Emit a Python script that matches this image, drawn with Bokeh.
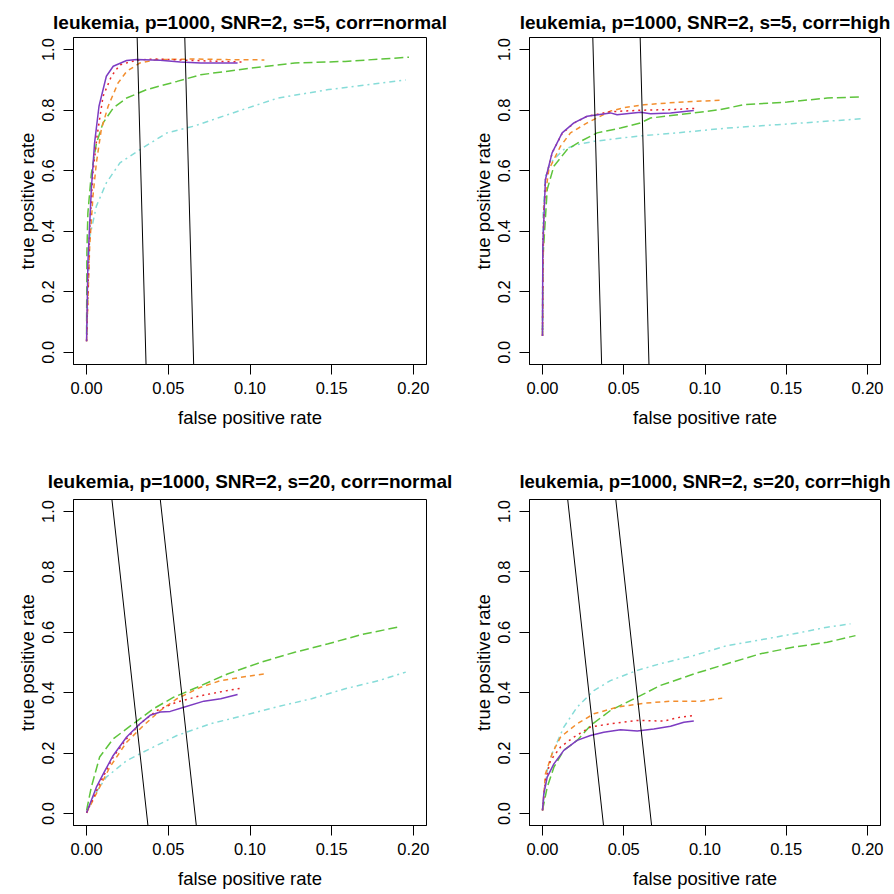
from bokeh.plotting import figure
from bokeh.layouts import gridplot
from bokeh.models import Range1d, FixedTicker, NumeralTickFormatter
from bokeh.embed import file_html
from bokeh.resources import INLINE

# ---------------- data ----------------
P_VARS = 1000
SEL_SIZES = [36, 65]          # reference lines: number of selected variables
X_TICKS = [0.0, 0.05, 0.10, 0.15, 0.20]
Y_TICKS = [0.0, 0.2, 0.4, 0.6, 0.8, 1.0]
XLIM = (0.0, 0.2)
YLIM = (0.0, 1.0)

TITLES = ["leukemia, p=1000, SNR=2, s=5, corr=normal",
          "leukemia, p=1000, SNR=2, s=5, corr=high",
          "leukemia, p=1000, SNR=2, s=20, corr=normal",
          "leukemia, p=1000, SNR=2, s=20, corr=high"]
S_VALUES = [5, 5, 20, 20]

# panel 1: s=5, corr=normal
p1_purple_x = [0, 0.0008, 0.0029, 0.0049, 0.0076, 0.0121, 0.0163, 0.0245, 0.0307, 0.045, 0.0574, 0.0698, 0.0924]
p1_purple_y = [0.037, 0.296, 0.538, 0.692, 0.813, 0.912, 0.945, 0.964, 0.967, 0.965, 0.959, 0.956, 0.956]
p1_red_x = [0, 0.0019, 0.0039, 0.0064, 0.0101, 0.0152, 0.0204, 0.0307, 0.041, 0.0615, 0.0759, 0.0965]
p1_red_y = [0.037, 0.406, 0.593, 0.714, 0.846, 0.912, 0.950, 0.965, 0.969, 0.965, 0.962, 0.959]
p1_orange_x = [0, 0.0019, 0.0039, 0.006, 0.009, 0.0132, 0.0193, 0.0245, 0.0327, 0.043, 0.0656, 0.0862, 0.1088]
p1_orange_y = [0.037, 0.35, 0.516, 0.626, 0.736, 0.813, 0.89, 0.928, 0.956, 0.967, 0.969, 0.967, 0.966]
p1_green_x = [0, 0.0002, 0.0008, 0.0029, 0.006, 0.0101, 0.0163, 0.0245, 0.0368, 0.0553, 0.0698, 0.0965, 0.1274, 0.1582, 0.1973]
p1_green_y = [0.06, 0.33, 0.46, 0.59, 0.69, 0.758, 0.807, 0.84, 0.868, 0.895, 0.917, 0.936, 0.956, 0.961, 0.975]
p1_cyan_x = [0, 0.0019, 0.006, 0.0121, 0.0204, 0.0327, 0.0492, 0.0656, 0.0862, 0.117, 0.148, 0.1953]
p1_cyan_y = [0.037, 0.38, 0.483, 0.56, 0.626, 0.67, 0.725, 0.747, 0.785, 0.84, 0.868, 0.90]

# panel 2: s=5, corr=high
p2_purple_x = [0, 0.0002, 0.0018, 0.0059, 0.0121, 0.0193, 0.0275, 0.0418, 0.0459, 0.0603, 0.0665, 0.0788, 0.0931]
p2_purple_y = [0.054, 0.351, 0.571, 0.659, 0.725, 0.758, 0.78, 0.791, 0.785, 0.793, 0.788, 0.791, 0.799]
p2_red_x = [0, 0.0002, 0.0018, 0.006, 0.012, 0.0193, 0.0275, 0.0418, 0.0615, 0.08, 0.0939]
p2_red_y = [0.054, 0.36, 0.57, 0.66, 0.722, 0.757, 0.78, 0.795, 0.80, 0.802, 0.806]
p2_orange_x = [0, 0.0008, 0.0039, 0.0111, 0.0172, 0.0275, 0.0418, 0.05, 0.0624, 0.0829, 0.1095]
p2_orange_y = [0.054, 0.483, 0.604, 0.681, 0.725, 0.758, 0.797, 0.808, 0.818, 0.826, 0.833]
p2_green_x = [0, 0.0002, 0.0029, 0.007, 0.0152, 0.0234, 0.0336, 0.048, 0.0603, 0.0665, 0.0931, 0.1095, 0.1239, 0.1506, 0.1752, 0.1957]
p2_green_y = [0.06, 0.307, 0.538, 0.615, 0.67, 0.697, 0.725, 0.741, 0.758, 0.774, 0.791, 0.802, 0.818, 0.827, 0.84, 0.844]
p2_cyan_x = [0, 0.0004, 0.0018, 0.0049, 0.0131, 0.0213, 0.0316, 0.0583, 0.0829, 0.1136, 0.1444, 0.1977]
p2_cyan_y = [0.054, 0.461, 0.582, 0.626, 0.67, 0.686, 0.697, 0.714, 0.725, 0.741, 0.752, 0.772]

# panel 3: s=20, corr=normal
p3_purple_x = [0, 0.006, 0.0111, 0.0163, 0.0245, 0.0327, 0.0389, 0.0451, 0.0512, 0.0595, 0.0718, 0.0821, 0.0924]
p3_purple_y = [0.002, 0.087, 0.14, 0.192, 0.253, 0.297, 0.325, 0.336, 0.338, 0.352, 0.372, 0.38, 0.394]
p3_red_x = [0, 0.008, 0.0163, 0.0245, 0.0327, 0.043, 0.0553, 0.0698, 0.0842, 0.0955]
p3_red_y = [0.002, 0.098, 0.187, 0.247, 0.297, 0.341, 0.369, 0.39, 0.405, 0.416]
p3_orange_x = [0, 0.008, 0.0142, 0.0245, 0.0348, 0.0451, 0.0553, 0.0698, 0.0821, 0.0944, 0.1088]
p3_orange_y = [0.002, 0.087, 0.153, 0.236, 0.291, 0.341, 0.38, 0.418, 0.44, 0.451, 0.462]
p3_green_x = [0, 0.0029, 0.008, 0.0163, 0.0286, 0.041, 0.0533, 0.0677, 0.0862, 0.1068, 0.1274, 0.1479, 0.1685, 0.1922]
p3_green_y = [0.01, 0.087, 0.187, 0.247, 0.297, 0.347, 0.385, 0.418, 0.462, 0.501, 0.534, 0.562, 0.593, 0.619]
p3_cyan_x = [0, 0.0039, 0.0121, 0.0245, 0.0368, 0.0553, 0.0759, 0.0965, 0.1171, 0.1377, 0.1582, 0.1788, 0.1953]
p3_cyan_y = [0.002, 0.054, 0.12, 0.175, 0.209, 0.258, 0.297, 0.325, 0.354, 0.38, 0.413, 0.44, 0.468]

# panel 4: s=20, corr=high
p4_purple_x = [0, 0.0008, 0.0029, 0.007, 0.0131, 0.0213, 0.0295, 0.0377, 0.048, 0.0583, 0.0685, 0.0788, 0.087, 0.0931]
p4_purple_y = [0.01, 0.065, 0.12, 0.164, 0.209, 0.242, 0.258, 0.269, 0.277, 0.273, 0.28, 0.289, 0.302, 0.306]
p4_red_x = [0, 0.0018, 0.0049, 0.0111, 0.0193, 0.0295, 0.0418, 0.0583, 0.0747, 0.0829, 0.0942]
p4_red_y = [0.01, 0.109, 0.175, 0.22, 0.253, 0.286, 0.297, 0.308, 0.306, 0.317, 0.325]
p4_orange_x = [0, 0.0018, 0.0059, 0.0111, 0.0213, 0.0316, 0.0459, 0.0624, 0.0788, 0.0972, 0.1106]
p4_orange_y = [0.01, 0.131, 0.198, 0.253, 0.297, 0.33, 0.352, 0.365, 0.372, 0.372, 0.382]
p4_green_x = [0, 0.0029, 0.007, 0.0131, 0.0213, 0.0295, 0.0418, 0.0583, 0.0726, 0.0931, 0.1136, 0.1342, 0.1547, 0.1752, 0.1926]
p4_green_y = [0.01, 0.087, 0.153, 0.209, 0.242, 0.291, 0.341, 0.385, 0.424, 0.462, 0.496, 0.529, 0.551, 0.567, 0.589]
p4_cyan_x = [0, 0.0029, 0.0059, 0.0131, 0.0213, 0.0316, 0.0418, 0.0583, 0.0726, 0.0931, 0.1136, 0.1342, 0.1547, 0.1752, 0.1895]
p4_cyan_y = [0.01, 0.142, 0.198, 0.286, 0.352, 0.407, 0.44, 0.474, 0.496, 0.523, 0.556, 0.575, 0.595, 0.617, 0.628]

PANEL_DATA = [
    [(p1_cyan_x, p1_cyan_y), (p1_green_x, p1_green_y), (p1_orange_x, p1_orange_y), (p1_red_x, p1_red_y), (p1_purple_x, p1_purple_y)],
    [(p2_cyan_x, p2_cyan_y), (p2_green_x, p2_green_y), (p2_orange_x, p2_orange_y), (p2_red_x, p2_red_y), (p2_purple_x, p2_purple_y)],
    [(p3_cyan_x, p3_cyan_y), (p3_green_x, p3_green_y), (p3_orange_x, p3_orange_y), (p3_red_x, p3_red_y), (p3_purple_x, p3_purple_y)],
    [(p4_cyan_x, p4_cyan_y), (p4_green_x, p4_green_y), (p4_orange_x, p4_orange_y), (p4_red_x, p4_red_y), (p4_purple_x, p4_purple_y)],
]

# ---------------- styles ----------------
STYLES = [  # cyan, green, orange, red, purple
    dict(color="#86DCD8", dash="2 4 6 4", width=1.5),
    dict(color="#5EC43C", dash="9 4", width=1.5),
    dict(color="#F38E2E", dash="5 4", width=1.5),
    dict(color="#E8282A", dash="2 4", width=1.5),
    dict(color="#7D3CC2", dash="solid", width=1.5),
]
FONT = "Liberation Sans"
PAD = 0.04

# layout (pixels): per panel
# (left, right, top, bottom, frame_w, frame_h, title_standoff, title_size)
LAYOUT = [
    (73, 29, 37, 83, 353, 327, 10, "19px"),
    (74, 14, 37, 83, 351, 327, 10, "19px"),
    (73, 29, 52, 69, 353, 326, 15, "19px"),
    (74, 14, 52, 69, 351, 326, 15, "18.5px"),
]


def make_panel(i):
    left, right, top, bottom, fw, fh, tstand, tsize = LAYOUT[i]
    xr = XLIM[1] - XLIM[0]
    yr = YLIM[1] - YLIM[0]
    x0, x1 = XLIM[0] - PAD * xr, XLIM[1] + PAD * xr
    y0, y1 = YLIM[0] - PAD * yr, YLIM[1] + PAD * yr
    p = figure(frame_width=fw, frame_height=fh,
               x_range=Range1d(x0, x1), y_range=Range1d(y0, y1),
               output_backend="svg", toolbar_location=None,
               min_border_left=left, min_border_right=right,
               min_border_top=top, min_border_bottom=bottom,
               background_fill_color="white", border_fill_color="white")
    p.title.text = TITLES[i]
    p.title.align = "center"
    p.title.text_font = FONT
    p.title.text_font_size = tsize
    p.title.text_font_style = "bold"
    p.title.text_color = "black"
    p.title.standoff = tstand

    p.grid.visible = False
    p.outline_line_color = "black"
    p.outline_line_width = 1
    p.outline_line_alpha = 1

    for ax, ticks, fmt in ((p.xaxis[0], X_TICKS, "0.00"), (p.yaxis[0], Y_TICKS, "0.0")):
        ax.ticker = FixedTicker(ticks=ticks)
        ax.formatter = NumeralTickFormatter(format=fmt)
        ax.minor_tick_line_color = None
        ax.major_tick_in = 0
        ax.major_tick_out = 10
        ax.major_tick_line_color = "black"
        ax.axis_line_color = "black"
        ax.major_label_text_font = FONT
        ax.major_label_text_font_size = "16.5px"
        ax.major_label_text_color = "black"
        ax.axis_label_text_font = FONT
        ax.axis_label_text_font_size = "18.5px"
        ax.axis_label_text_font_style = "normal"
        ax.axis_label_text_color = "black"
    p.xaxis.axis_label = "false positive rate"
    p.yaxis.axis_label = "true positive rate"
    p.xaxis.major_label_standoff = 7
    p.xaxis.axis_label_standoff = 10
    p.yaxis.major_label_orientation = "vertical"
    p.yaxis.major_label_standoff = 9
    p.yaxis.axis_label_standoff = 2

    for (xs, ys), st in zip(PANEL_DATA[i], STYLES):
        p.line(xs, ys, line_color=st["color"], line_dash=st["dash"], line_width=st["width"])

    s = S_VALUES[i]
    xs0 = [(k - y0 * s) / (P_VARS - s) for k in SEL_SIZES]
    xs1 = [(k - y1 * s) / (P_VARS - s) for k in SEL_SIZES]
    p.segment(x0=xs0, y0=[y0] * len(SEL_SIZES), x1=xs1, y1=[y1] * len(SEL_SIZES),
              line_color="black", line_width=1)
    return p


panels = [make_panel(i) for i in range(4)]
grid = gridplot([[panels[0], panels[1]], [panels[2], panels[3]]], toolbar_location=None)

open("out.html", "w").write(file_html(grid, INLINE))
